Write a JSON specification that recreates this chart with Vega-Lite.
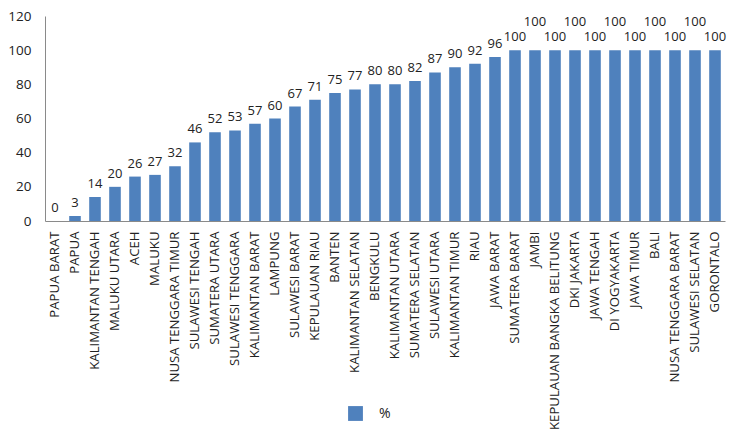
{
  "$schema": "https://vega.github.io/schema/vega-lite/v6.json",
  "width": 680,
  "height": 205,
  "autosize": {"type": "none"},
  "padding": {"left": 45, "top": 16, "right": 19, "bottom": 212},
  "background": "white",
  "config": {
    "view": {"stroke": null},
    "font": "Open Sans",
    "axis": {"labelFont": "Open Sans", "labelColor": "#222222", "domainColor": "#8a8a8a", "ticks": false, "grid": false, "title": null}
  },
  "data": {
    "values": [
      {"province": "PAPUA BARAT", "value": 0},
      {"province": "PAPUA", "value": 3},
      {"province": "KALIMANTAN TENGAH", "value": 14},
      {"province": "MALUKU UTARA", "value": 20},
      {"province": "ACEH", "value": 26},
      {"province": "MALUKU", "value": 27},
      {"province": "NUSA TENGGARA TIMUR", "value": 32},
      {"province": "SULAWESI TENGAH", "value": 46},
      {"province": "SUMATERA UTARA", "value": 52},
      {"province": "SULAWESI TENGGARA", "value": 53},
      {"province": "KALIMANTAN BARAT", "value": 57},
      {"province": "LAMPUNG", "value": 60},
      {"province": "SULAWESI BARAT", "value": 67},
      {"province": "KEPULAUAN RIAU", "value": 71},
      {"province": "BANTEN", "value": 75},
      {"province": "KALIMANTAN SELATAN", "value": 77},
      {"province": "BENGKULU", "value": 80},
      {"province": "KALIMANTAN UTARA", "value": 80},
      {"province": "SUMATERA SELATAN", "value": 82},
      {"province": "SULAWESI UTARA", "value": 87},
      {"province": "KALIMANTAN TIMUR", "value": 90},
      {"province": "RIAU", "value": 92},
      {"province": "JAWA BARAT", "value": 96},
      {"province": "SUMATERA BARAT", "value": 100},
      {"province": "JAMBI", "value": 100},
      {"province": "KEPULAUAN BANGKA BELITUNG", "value": 100},
      {"province": "DKI JAKARTA", "value": 100},
      {"province": "JAWA TENGAH", "value": 100},
      {"province": "DI YOGYAKARTA", "value": 100},
      {"province": "JAWA TIMUR", "value": 100},
      {"province": "BALI", "value": 100},
      {"province": "NUSA TENGGARA BARAT", "value": 100},
      {"province": "SULAWESI SELATAN", "value": 100},
      {"province": "GORONTALO", "value": 100}
    ]
  },
  "encoding": {
    "x": {
      "field": "province", "type": "nominal", "sort": null,
      "scale": {"paddingInner": 0.42, "paddingOuter": 0.21},
      "axis": {"labelAngle": -90, "labelPadding": 10, "labelFontSize": 13.2, "labelLimit": 300}
    },
    "y": {
      "field": "value", "type": "quantitative",
      "scale": {"domain": [0, 120], "nice": false},
      "axis": {"values": [0, 20, 40, 60, 80, 100, 120], "labelPadding": 14, "labelFontSize": 13.5}
    }
  },
  "layer": [
    {
      "mark": {"type": "bar", "color": "#4F81BD"},
      "encoding": {
        "color": {
          "datum": "%",
          "scale": {"range": ["#4F81BD"]},
          "legend": {
            "title": null, "orient": "none", "legendX": 303, "legendY": 390,
            "symbolType": "square", "symbolSize": 220, "symbolStrokeWidth": 0,
            "labelFontSize": 14, "labelColor": "#222222", "labelOffset": 16
          }
        }
      }
    },
    {
      "transform": [{"filter": "indexof(['JAMBI','DKI JAKARTA','DI YOGYAKARTA','BALI','SULAWESI SELATAN'], datum.province) < 0"}],
      "mark": {"type": "text", "baseline": "bottom", "dy": -6, "fontSize": 13, "color": "#222222"},
      "encoding": {"text": {"field": "value", "type": "quantitative"}}
    },
    {
      "transform": [{"filter": "indexof(['JAMBI','DKI JAKARTA','DI YOGYAKARTA','BALI','SULAWESI SELATAN'], datum.province) >= 0"}],
      "mark": {"type": "text", "baseline": "bottom", "dy": -21, "fontSize": 13, "color": "#222222"},
      "encoding": {"text": {"field": "value", "type": "quantitative"}}
    }
  ]
}
